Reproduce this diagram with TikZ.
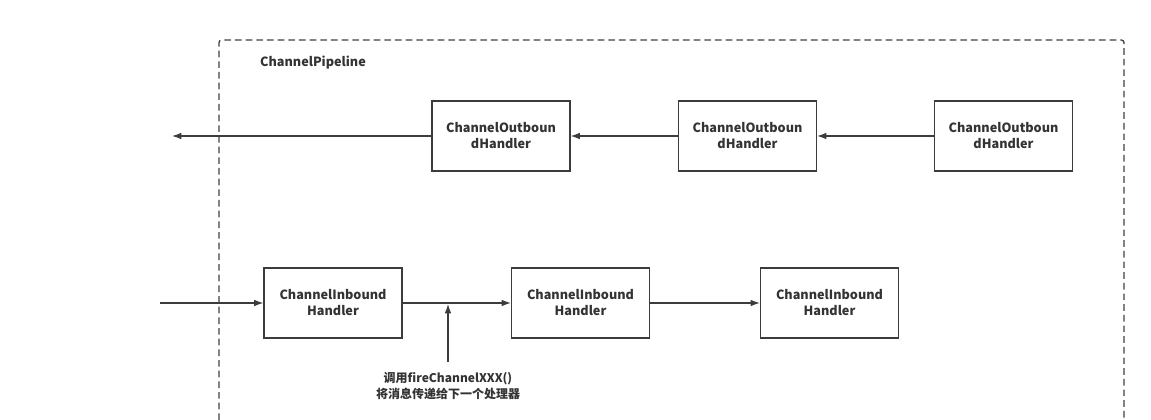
\documentclass[tikz,border=0pt]{standalone}
\usepackage{fontspec}
\setmainfont{Noto Sans CJK SC}
\usetikzlibrary{positioning, arrows.meta}
\tikzset{>={Latex[length=7pt,width=5pt]}}
\definecolor{linegray}{RGB}{60,60,60}
\tikzset{
    handler/.style = {rectangle, draw=linegray, line width=0.9pt, fill=white,
                        minimum width=103.5pt, minimum height=52.5pt, align=center,
                        font=\bfseries\fontsize{9.5}{12}\selectfont, text=black!80},
    flow/.style = {->, draw=linegray, line width=0.9pt}
}

\begin{document}
\begin{tikzpicture}[x=0.75pt,y=-0.75pt]
			\useasboundingbox (0,0) rectangle (1151,420);
			\tikzstyle{every node}=[font=\bfseries\fontsize{9.5}{12}\selectfont]
			% pipeline frame, open at the bottom
			\draw [black!75, line width=1pt, dash pattern=on 5pt off 3pt, rounded corners=2pt]
				(219,420) -- (219,40) -- (1124,40) -- (1124,420);
			\node (title) [text=black!80] at (313,63) {ChannelPipeline};
			% outbound handlers
			\node (out1) [handler] at (501,136) {ChannelOutboun\\dHandler};
			\node (out2) [handler] at (747.5,136) {ChannelOutboun\\dHandler};
			\node (out3) [handler] at (1003.5,136) {ChannelOutboun\\dHandler};
			\coordinate (outend) at (172,136);
			\draw [flow] (out3) -- (out2);
			\draw [flow] (out2) -- (out1);
			\draw [flow] (out1) -- (outend);
			% inbound handlers
			\coordinate (instart) at (160,303);
			\node (in1) [handler] at (333,303) {ChannelInbound\\Handler};
			\node (in2) [handler] at (580.5,303) {ChannelInbound\\Handler};
			\node (in3) [handler] at (829.5,303) {ChannelInbound\\Handler};
			\draw [flow] (instart) -- (in1);
			\draw [flow] (in1) -- (in2);
			\draw [flow] (in2) -- (in3);
			% note on passing the event on
			\node (note) [align=center, text=black!80, font=\bfseries\fontsize{9}{12}\selectfont] at (448,386) {调用fireChannelXXX()\\将消息传递给下一个处理器};
			\coordinate (noteup) at (448,362);
			\coordinate (hit) at (448,304);
			\draw [flow] (noteup) -- (hit);
		\end{tikzpicture}
\end{document}
